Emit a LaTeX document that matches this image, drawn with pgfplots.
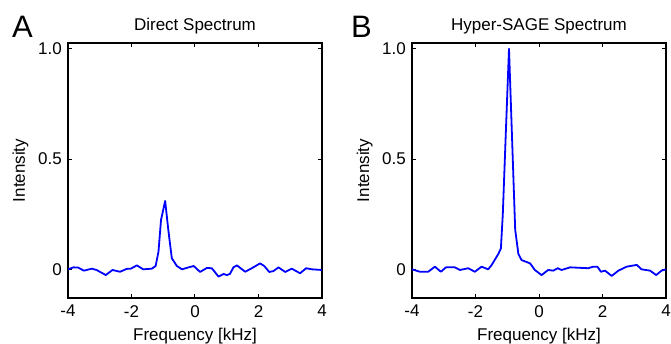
\documentclass[border=0pt]{standalone}
\usepackage{fontspec}
\setmainfont{Liberation Sans}
\usepackage{pgfplots}
\pgfplotsset{compat=1.18}
\definecolor{specblue}{RGB}{0,0,255}
\pgfplotsset{
  specaxis/.style={
    scale only axis, width=254pt, height=255pt,
    xmin=-4, xmax=4, ymin=-0.13, ymax=1.026,
    xtick={-4,-2,0,2,4}, xticklabels={-4,-2,0,2,4},
    ytick={0,0.5,1}, yticklabels={0,0.5,1.0},
    tick align=inside, major tick length=4pt,
    axis line style={line width=1.3pt},
    every tick/.style={black, line width=1pt},
    ticklabel style={font=\fontsize{17}{19}\selectfont},
    yticklabel style={inner sep=0pt, xshift=-6pt},
    xticklabel style={inner sep=0pt, yshift=-7pt},
    xlabel={Frequency [kHz]}, ylabel={Intensity},
    label style={font=\fontsize{17}{19}\selectfont},
    xlabel style={at={(axis description cs:0.5,0)}, anchor=base, yshift=-42pt},
    ylabel style={at={(axis description cs:0,0.5)}, anchor=base, yshift=43pt},
    title style={font=\fontsize{17}{19}\selectfont, at={(axis description cs:0.5,1)}, anchor=base, yshift=6pt},
  },
  specline/.style={specblue, line width=1.8pt, line join=round, no marks},
}
\begin{document}
\begin{tikzpicture}[x=1pt,y=1pt]
\useasboundingbox (0,0) rectangle (671,343);
\begin{axis}[specaxis, at={(68pt,45pt)}, anchor=south west, title={Direct Spectrum}]
\addplot[specline] coordinates {
(-4,0) (-3.83,0.009) (-3.68,0.008) (-3.5,-0.006) (-3.25,0.003) (-3.1,-0.003)
(-2.81,-0.026) (-2.6,-0.003) (-2.36,-0.011) (-2.15,0.002) (-2.02,0.003) (-1.83,0.018)
(-1.63,0) (-1.36,0.003) (-1.24,0.015) (-1.15,0.08) (-1.07,0.224) (-0.94,0.31)
(-0.84,0.178) (-0.73,0.05) (-0.57,0.015) (-0.41,0) (-0.2,0.009) (-0.04,0.015)
(0.16,-0.012) (0.37,0.006) (0.53,0.005) (0.74,-0.033) (0.9,-0.021) (1.0,-0.026)
(1.1,-0.021) (1.21,0.009) (1.32,0.018) (1.58,-0.011) (1.79,0.005) (2.05,0.027)
(2.18,0.015) (2.34,-0.012) (2.47,-0.008) (2.63,0.009) (2.84,-0.012) (3.05,0.003)
(3.31,-0.018) (3.5,0.005) (3.68,0) (4,-0.003)
};
\end{axis}
\begin{axis}[specaxis, at={(412pt,45pt)}, anchor=south west, title={Hyper-SAGE Spectrum}]
\addplot[specline] coordinates {
(-4,0) (-3.75,-0.011) (-3.49,-0.011) (-3.28,0.012) (-3.09,-0.011) (-2.93,0.009)
(-2.65,0.009) (-2.49,-0.003) (-2.23,0.005) (-2.02,-0.011) (-1.81,0.012) (-1.6,0)
(-1.49,0.02) (-1.28,0.07) (-1.2,0.095) (-1.14,0.25) (-1.05,0.6) (-0.945,1.0)
(-0.75,0.18) (-0.65,0.07) (-0.55,0.042) (-0.28,0.027) (-0.13,-0.003) (0.08,-0.026)
(0.29,-0.003) (0.45,-0.006) (0.59,0.005) (0.71,-0.003) (0.98,0.009) (1.55,0.005)
(1.71,0.012) (1.84,0.012) (1.95,-0.011) (2.08,-0.006) (2.29,-0.03) (2.5,-0.006)
(2.76,0.012) (3.08,0.02) (3.23,0) (3.5,-0.006) (3.69,-0.026) (3.86,-0.006) (4,0)
};
\end{axis}
\node[anchor=base west, inner sep=0pt, font=\fontsize{31}{33}\selectfont] at (12,305.7) {A};
\node[anchor=base west, inner sep=0pt, font=\fontsize{31}{33}\selectfont] at (351,305.7) {B};
\end{tikzpicture}
\end{document}
